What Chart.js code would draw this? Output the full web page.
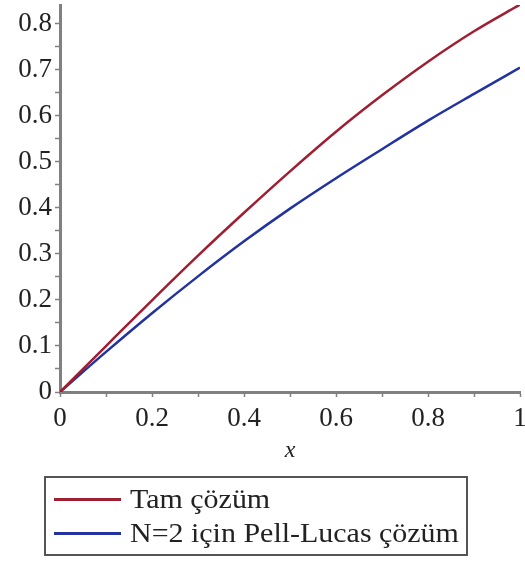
<!DOCTYPE html>
<html>
<head>
<meta charset="utf-8">
<script src="https://cdn.jsdelivr.net/npm/chart.js@4/dist/chart.umd.min.js"></script>
<style>
    html, body { margin: 0; padding: 0; background: #fff; }
    #wrap { position: relative; width: 525px; height: 561px; }
    #legendBox {
        position: absolute; left: 44px; top: 476px; width: 420px; height: 76px;
        border: 2px solid #555; font-family: "Liberation Serif", "DejaVu Serif", serif;
        font-size: 28px; color: #222;
    }
    #legendBox .item { position: absolute; left: 0; height: 30px; line-height: 30px; white-space: nowrap; }
    #legendBox .swatch { position: absolute; left: 8px; top: 14px; width: 67px; height: 3px; }
    #legendBox .text { position: absolute; left: 84px; top: 0; transform: scaleX(1.07); transform-origin: left center; }
</style>
</head>
<body>
<div id="wrap">
    <canvas id="myChart" width="525" height="561"></canvas>
    <div id="legendBox"></div>
</div>
<script>
// x noktaları
const xValues = [0, 0.1, 0.2, 0.3, 0.4, 0.5, 0.6, 0.7, 0.8, 0.9, 1];
// tam çözüm
const exactValues = [0, 0.0998, 0.199, 0.296, 0.389, 0.479, 0.565, 0.644, 0.717, 0.783, 0.841];
// N=2 Pell-Lucas yaklaşık çözüm
const pellLucasValues = [0, 0.087, 0.171, 0.251, 0.327, 0.398, 0.464, 0.527, 0.589, 0.647, 0.704];

const seriesNames = ['Tam çözüm', 'N=2 için Pell-Lucas çözüm'];
const seriesColors = ['#9e1f32', '#2232a0'];

// eksen etiketleri
const xTickLabels = [0, 0.2, 0.4, 0.6, 0.8, 1];
const yTickLabels = [0, 0.1, 0.2, 0.3, 0.4, 0.5, 0.6, 0.7, 0.8];

const serif = '"Liberation Serif", "DejaVu Serif", serif';

function toPoints(values) {
    return values.map((v, i) => ({ x: xValues[i], y: v }));
}

function tickText(list) {
    return function(value) {
        const hit = list.find(t => Math.abs(t - value) < 1e-6);
        return hit === undefined ? '' : String(hit);
    };
}

document.addEventListener('DOMContentLoaded', function() {
    const ctx = document.getElementById('myChart').getContext('2d');

    const myChart = new Chart(ctx, {
        type: 'line',
        data: {
            datasets: seriesNames.map((name, i) => ({
                label: name,
                data: toPoints(i === 0 ? exactValues : pellLucasValues),
                borderColor: seriesColors[i],
                borderWidth: 2.5,
                pointRadius: 0,
                fill: false,
                cubicInterpolationMode: 'monotone'
            }))
        },
        options: {
            responsive: false,
            animation: false,
            layout: { padding: { top: 5, right: 5, left: 0, bottom: 94 } },
            plugins: {
                legend: { display: false },
                tooltip: { enabled: false }
            },
            scales: {
                x: {
                    type: 'linear',
                    min: 0,
                    max: 1,
                    // eksen kutusunun boyutu sabit, kenar boşluğu yok
                    afterFit: function(scale) {
                        scale.height = 75;
                        scale.paddingLeft = 0;
                        scale.paddingRight = 0;
                    },
                    border: { color: '#808080', width: 3 },
                    grid: { drawOnChartArea: false, tickLength: 5, tickColor: '#808080', tickWidth: 1.5 },
                    ticks: {
                        stepSize: 0.1,
                        includeBounds: false,
                        autoSkip: false,
                        maxRotation: 0,
                        padding: 6,
                        color: '#222',
                        font: { family: serif, size: 27 },
                        callback: tickText(xTickLabels)
                    },
                    title: {
                        display: true,
                        text: 'x',
                        color: '#222',
                        padding: { top: 0, bottom: 2 },
                        font: { family: serif, size: 24, style: 'italic' }
                    }
                },
                y: {
                    type: 'linear',
                    min: 0,
                    max: 0.84,
                    afterFit: function(scale) {
                        scale.width = 60;
                        scale.paddingTop = 0;
                        scale.paddingBottom = 0;
                    },
                    border: { color: '#808080', width: 3 },
                    grid: { drawOnChartArea: false, tickLength: 5, tickColor: '#808080', tickWidth: 1.5 },
                    ticks: {
                        stepSize: 0.05,
                        includeBounds: false,
                        autoSkip: false,
                        padding: 3,
                        color: '#222',
                        font: { family: serif, size: 27 },
                        callback: tickText(yTickLabels)
                    }
                }
            }
        }
    });

    // kutulu açıklama
    const legendBox = document.getElementById('legendBox');
    myChart.data.datasets.forEach((ds, i) => {
        const item = document.createElement('div');
        item.className = 'item';
        item.style.top = (6 + i * 34) + 'px';
        item.innerHTML = `<span class="swatch" style="background:${ds.borderColor}"></span><span class="text">${ds.label}</span>`;
        legendBox.appendChild(item);
    });
});
</script>
</body>
</html>
